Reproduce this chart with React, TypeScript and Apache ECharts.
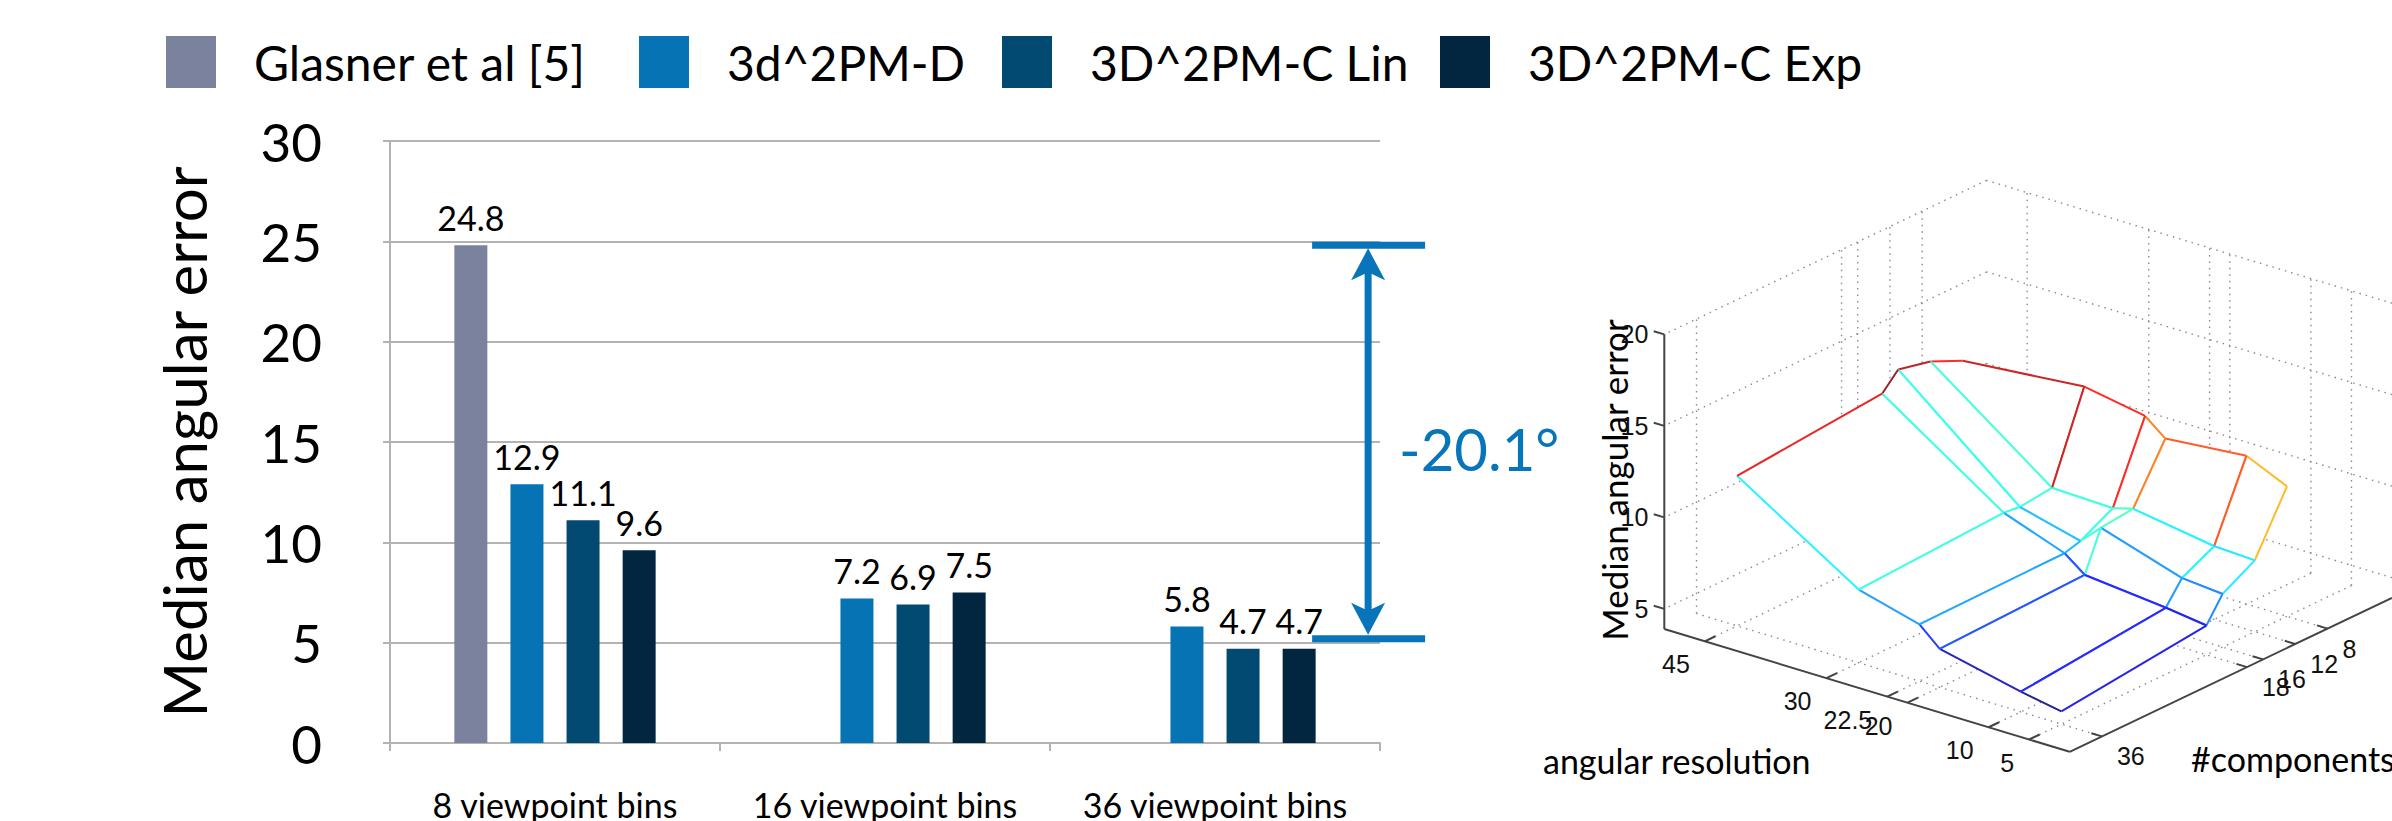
import React, { useEffect, useRef } from "react";
import * as echarts from "echarts";

// ---------------- bar chart data ----------------
const categories = ["8 viewpoint bins", "16 viewpoint bins", "36 viewpoint bins"];
const seriesNames = ["Glasner et al [5]", "3d^2PM-D", "3D^2PM-C Lin", "3D^2PM-C Exp"];
const glasnerValues: (number | null)[] = [24.8, null, null];
const pmDValues = [12.9, 7.2, 5.8];
const pmCLinValues = [11.1, 6.9, 4.7];
const pmCExpValues = [9.6, 7.5, 4.7];
const seriesColors = ["#7a829e", "#0674b4", "#034a73", "#02263f"];
const yMax = 30;
const yStep = 5;
const gapArrow = [[2.964, 24.8, 5.2]]; // [x position on hidden 0..3 axis, from, to]
const gapText = "-20.1°";

// ---------------- 3D surface data ----------------
const angularResolution = [45, 30, 22.5, 20, 10, 5];
const componentCounts = [36, 18, 16, 12, 8];
const medianError = [
  [12.1, 12.8, 13.7, 13.3, 12.5],
  [7.9, 8.3, 8.2, 8.4, 13.1],
  [7.0, 7.1, 7.35, 8.3, 12.5],
  [6.0, 6.25, 8.4, 8.6, 11.6],
  [5.0, 5.8, 7.0, 7.9, 12.0],
  [4.6, 5.5, 6.8, 7.8, 11.0],
];
const angTicks = [5, 10, 20, 22.5, 30, 45];
const compTicks = [8, 12, 16, 18, 36];
const errTicks = [5, 10, 15, 20];
const angLimits = [0, 50];
const compLimits = [0, 40];
const errLimits = [3.9, 20];

// view (oblique projection of the 3D box onto the hidden cartesian plane)
const VIEW = { aX: 8.2, aY: 2.456, cX: 8.15, cY: 3.85, zY: 18.3 };
function project(a: number, c: number, z: number): number[] {
  const da = angLimits[1] - a;
  const dc = compLimits[1] - c;
  return [VIEW.aX * da + VIEW.cX * dc, VIEW.zY * (z - errLimits[0]) + VIEW.cY * dc - VIEW.aY * da];
}

const [A0, A1] = angLimits;
const [C0, C1] = compLimits;
const [Z0, Z1] = errLimits;

const gridSegs: number[][] = [];
angTicks.forEach((a) => {
  gridSegs.push([a, C0, Z0, a, C1, Z0]);
  gridSegs.push([a, C0, Z0, a, C0, Z1]);
});
compTicks.forEach((c) => {
  gridSegs.push([A0, c, Z0, A1, c, Z0]);
  gridSegs.push([A1, c, Z0, A1, c, Z1]);
});
errTicks.forEach((z) => {
  gridSegs.push([A1, C0, z, A1, C1, z]);
  gridSegs.push([A0, C0, z, A1, C0, z]);
});

const flatZ = medianError.flat();
const zLo = Math.min(...flatZ);
const zHi = Math.max(...flatZ);
function jet(v: number): string {
  const t = (v - zLo) / (zHi - zLo);
  const cl = (x: number) => Math.max(0, Math.min(1, x));
  const r = cl(1.5 - Math.abs(4 * t - 3));
  const g = cl(1.5 - Math.abs(4 * t - 2));
  const b = cl(1.5 - Math.abs(4 * t - 1));
  const m = (x: number) => Math.round((x * 0.85 + 0.15) * 255);
  return `rgb(${m(r)},${m(g)},${m(b)})`;
}

const quads: number[][] = [];
for (let i = 0; i < angularResolution.length - 1; i++) {
  for (let j = 0; j < componentCounts.length - 1; j++) {
    const am = (angularResolution[i] + angularResolution[i + 1]) / 2;
    const cm = (componentCounts[j] + componentCounts[j + 1]) / 2;
    const depth = VIEW.aY * (A1 - am) - VIEW.cY * (C1 - cm);
    quads.push([i, j, depth]);
  }
}
quads.sort((p, q) => p[2] - q[2]);

const LATO = "Lato";
const HELV = "Liberation Sans";

export default function App() {
  const ref = useRef<HTMLDivElement>(null);
  useEffect(() => {
    if (!ref.current) return;
    const chart = echarts.init(ref.current, null, { renderer: "svg" });
    const legendLefts = [166, 639, 1002, 1440];
    const values = [glasnerValues, pmDValues, pmCLinValues, pmCExpValues];

    const bars = seriesNames.map((name, k) => ({
      type: "bar",
      name,
      xAxisIndex: 0,
      yAxisIndex: 0,
      data: values[k],
      barWidth: 33,
      barGap: "70%",
      itemStyle: { color: seriesColors[k], borderWidth: 0 },
      label: {
        show: true,
        position: "top",
        distance: 11,
        fontFamily: LATO,
        fontSize: 34,
        color: "#000",
      },
      silent: true,
    }));

    const blue = "#0874b9";
    const arrowSeries = {
      type: "custom",
      xAxisIndex: 1,
      yAxisIndex: 0,
      data: gapArrow,
      clip: false,
      silent: true,
      renderItem: (params: any, api: any) => {
        const x = api.value(0);
        const top = api.coord([x, api.value(1)]);
        const bot = api.coord([x, api.value(2)]);
        const cx = top[0];
        const lw = 7;
        const line = (x1: number, y1: number, x2: number, y2: number) => ({
          type: "line",
          shape: { x1, y1, x2, y2 },
          style: { stroke: blue, lineWidth: lw },
        });
        const midY = (top[1] + bot[1]) / 2;
        return {
          type: "group",
          children: [
            line(cx - 56, top[1], cx + 57, top[1]),
            line(cx - 56, bot[1], cx + 57, bot[1]),
            line(cx, top[1] + 20, cx, bot[1] - 20),
            {
              type: "polygon",
              shape: {
                points: [
                  [cx, top[1] + 3],
                  [cx + 17, top[1] + 35],
                  [cx, top[1] + 27],
                  [cx - 17, top[1] + 35],
                ],
              },
              style: { fill: blue },
            },
            {
              type: "polygon",
              shape: {
                points: [
                  [cx, bot[1] - 4],
                  [cx + 17, bot[1] - 36],
                  [cx, bot[1] - 28],
                  [cx - 17, bot[1] - 36],
                ],
              },
              style: { fill: blue },
            },
            {
              type: "text",
              x: cx + 31,
              y: midY + 6,
              style: {
                text: gapText,
                fill: blue,
                fontFamily: LATO,
                fontSize: 58,
                align: "left",
                verticalAlign: "middle",
              },
            },
          ],
        };
      },
    };

    const gridSeries = {
      type: "custom",
      xAxisIndex: 2,
      yAxisIndex: 1,
      data: gridSegs.map((_, k) => [k, 0]),
      clip: false,
      silent: true,
      renderItem: (params: any, api: any) => {
        const s = gridSegs[params.dataIndex];
        const p = api.coord(project(s[0], s[1], s[2]));
        const q = api.coord(project(s[3], s[4], s[5]));
        return {
          type: "line",
          shape: { x1: p[0], y1: p[1], x2: q[0], y2: q[1] },
          style: { stroke: "#8a8a8a", lineWidth: 1.4, lineDash: [1.5, 5] },
        };
      },
    };

    const surfaceSeries = {
      type: "custom",
      xAxisIndex: 2,
      yAxisIndex: 1,
      data: quads.map((_, k) => [k, 0]),
      clip: false,
      silent: true,
      renderItem: (params: any, api: any) => {
        const [i, j] = quads[params.dataIndex];
        const P = (ii: number, jj: number) =>
          api.coord(project(angularResolution[ii], componentCounts[jj], medianError[ii][jj]));
        const col = (ii: number, jj: number) => jet(medianError[ii][jj]);
        const p00 = P(i, j);
        const p10 = P(i + 1, j);
        const p11 = P(i + 1, j + 1);
        const p01 = P(i, j + 1);
        const edge = (a: number[], b: number[], color: string) => ({
          type: "line",
          shape: { x1: a[0], y1: a[1], x2: b[0], y2: b[1] },
          style: { stroke: color, lineWidth: 2 },
        });
        return {
          type: "group",
          children: [
            { type: "polygon", shape: { points: [p00, p10, p11, p01] }, style: { fill: "#ffffff" } },
            edge(p00, p10, col(i + 1, j)),
            edge(p01, p11, col(i + 1, j + 1)),
            edge(p00, p01, col(i, j + 1)),
            edge(p10, p11, col(i + 1, j + 1)),
          ],
        };
      },
    };

    const axesSeries = {
      type: "custom",
      xAxisIndex: 2,
      yAxisIndex: 1,
      data: [[0, 0]],
      clip: false,
      silent: true,
      renderItem: (params: any, api: any) => {
        const C = (a: number, c: number, z: number) => api.coord(project(a, c, z));
        const axisColor = "#444";
        const seg = (p: number[], q: number[]) => ({
          type: "line",
          shape: { x1: p[0], y1: p[1], x2: q[0], y2: q[1] },
          style: { stroke: axisColor, lineWidth: 2 },
        });
        const txt = (x: number, y: number, text: string, align: string) => ({
          type: "text",
          x,
          y,
          style: {
            text,
            fill: "#111",
            fontFamily: HELV,
            fontSize: 25,
            align,
            verticalAlign: "middle",
          },
        });
        const children: any[] = [];
        children.push(seg(C(A1, C1, Z0), C(A1, C1, Z1)));
        children.push(seg(C(A1, C1, Z0), C(A0, C1, Z0)));
        children.push(seg(C(A0, C1, Z0), C(A0, C0, Z0)));
        errTicks.forEach((z) => {
          const p = C(A1, C1, z);
          children.push(seg(p, C(A1 + 1.3, C1, z)));
          children.push(txt(p[0] - 16, p[1], String(z), "right"));
        });
        angTicks.forEach((a) => {
          const p = C(a, C1, Z0);
          children.push(seg(p, C(a, C1 - 1.3, Z0)));
          children.push(txt(p[0] - 15, p[1] + 23, String(a), "right"));
        });
        compTicks.forEach((c) => {
          const p = C(A0, c, Z0);
          children.push(seg(p, C(A0 + 1.3, c, Z0)));
          children.push(txt(p[0] + 15, p[1] + 20, String(c), "left"));
        });
        return { type: "group", children };
      },
    };

    const option: any = {
      animation: false,
      backgroundColor: "#ffffff",
      legend: seriesNames.map((name, k) => ({
        data: [name],
        left: legendLefts[k],
        top: 36,
        padding: 0,
        itemWidth: 50,
        itemHeight: 52,
        icon: "rect",
        selectedMode: false,
        itemStyle: { borderWidth: 0 },
        textStyle: {
          fontFamily: LATO,
          fontSize: 48,
          color: "#000",
          padding: [0, 0, 0, 33],
        },
      })),
      grid: [
        { left: 390, top: 141, width: 990, height: 615 },
        { left: 1664.3, top: 179, width: 736, height: 580 },
      ],
      xAxis: [
        {
          type: "category",
          gridIndex: 0,
          data: categories,
          axisLine: { show: true, lineStyle: { color: "#b3b3b3", width: 2 } },
          axisTick: { show: true, length: 8, lineStyle: { color: "#b3b3b3", width: 2 } },
          axisLabel: { margin: 44, fontFamily: LATO, fontSize: 34, color: "#000", interval: 0 },
          splitLine: { show: false },
        },
        { type: "value", gridIndex: 0, min: 0, max: 3, show: false },
        { type: "value", gridIndex: 1, min: 0, max: 736, show: false },
      ],
      yAxis: [
        {
          type: "value",
          gridIndex: 0,
          min: 0,
          max: yMax,
          interval: yStep,
          name: "Median angular error",
          nameLocation: "middle",
          nameGap: 176,
          nameTextStyle: { fontFamily: LATO, fontSize: 60, color: "#000" },
          axisLine: { show: true, lineStyle: { color: "#b3b3b3", width: 2 } },
          axisTick: { show: true, length: 7, lineStyle: { color: "#b3b3b3", width: 2 } },
          axisLabel: { margin: 68, fontFamily: LATO, fontSize: 53, color: "#000" },
          splitLine: { show: true, lineStyle: { color: "#b3b3b3", width: 2 } },
        },
        { type: "value", gridIndex: 1, min: -130, max: 450, show: false },
      ],
      series: [...bars, arrowSeries, gridSeries, surfaceSeries, axesSeries],
      graphic: [
        {
          type: "text",
          x: 1614,
          y: 480,
          rotation: Math.PI / 2,
          style: {
            text: "Median angular error",
            fill: "#000",
            fontFamily: LATO,
            fontSize: 35,
            align: "center",
            verticalAlign: "middle",
          },
        },
        {
          type: "text",
          x: 1543,
          y: 760,
          style: {
            text: "angular resolution",
            fill: "#000",
            fontFamily: LATO,
            fontSize: 34,
            align: "left",
            verticalAlign: "middle",
          },
        },
        {
          type: "text",
          x: 2191,
          y: 758,
          style: {
            text: "#components",
            fill: "#000",
            fontFamily: LATO,
            fontSize: 34,
            align: "left",
            verticalAlign: "middle",
          },
        },
      ],
    };
    chart.setOption(option);
    return () => chart.dispose();
  }, []);
  return (
    <div
      ref={ref}
      style={{ position: "fixed", left: 0, top: 0, width: 2392, height: 821, background: "#fff" }}
    />
  );
}
